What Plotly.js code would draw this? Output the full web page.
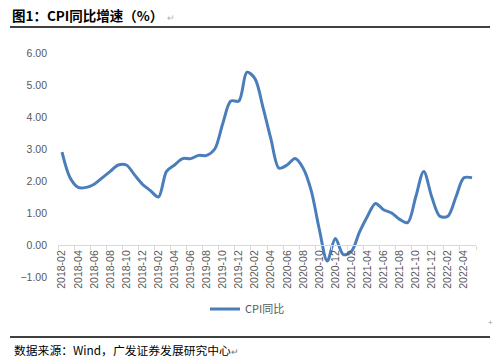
<!DOCTYPE html>
<html>
<head>
<meta charset="utf-8">
<script src="https://cdn.plot.ly/plotly-3.0.1.min.js"></script>
<style>html,body{margin:0;padding:0;background:#fff;}#chart{width:496px;height:358px;}</style>
</head>
<body>
<div id="chart"></div>
<script>
const months = [
  "2018-02","2018-03","2018-04","2018-05","2018-06","2018-07","2018-08","2018-09","2018-10","2018-11","2018-12",
  "2019-01","2019-02","2019-03","2019-04","2019-05","2019-06","2019-07","2019-08","2019-09","2019-10","2019-11","2019-12",
  "2020-01","2020-02","2020-03","2020-04","2020-05","2020-06","2020-07","2020-08","2020-09","2020-10","2020-11","2020-12",
  "2021-01","2021-02","2021-03","2021-04","2021-05","2021-06","2021-07","2021-08","2021-09","2021-10","2021-11","2021-12",
  "2022-01","2022-02","2022-03","2022-04","2022-05"
];
const cpiYoY = [
  2.9,2.1,1.8,1.8,1.9,2.1,2.3,2.5,2.5,2.2,1.9,
  1.7,1.5,2.3,2.5,2.7,2.7,2.8,2.8,3.0,3.8,4.5,4.5,
  5.4,5.2,4.3,3.3,2.4,2.5,2.7,2.4,1.7,0.5,-0.5,0.2,
  -0.3,-0.2,0.4,0.9,1.3,1.1,1.0,0.8,0.7,1.5,2.3,1.5,
  0.9,0.9,1.5,2.1,2.1
];
const seriesName = "CPI同比";
const titleText = "图1：CPI同比增速（%）";
const sourceText = "数据来源：Wind，广发证券发展研究中心";
const yTicks = [-1,0,1,2,3,4,5,6];

// plot area in pixels
const L = 58, R = 20, T = 53, B = 81, W = 496, H = 358;
const pw = W - L - R, ph = H - T - B;
const px = x => (x - L) / pw;
const py = y => (H - B - y) / ph;

const CJK = '"Noto Sans CJK SC", "Liberation Sans", Arial, sans-serif';
const LAT = '"Liberation Sans", Arial, "Noto Sans CJK SC", sans-serif';

const trace = {
  x: months,
  y: cpiYoY,
  type: 'scatter',
  mode: 'lines',
  name: seriesName,
  line: {color: '#4a7ebb', width: 3, shape: 'spline', smoothing: 0.9}
};

const yMin = -1, yMax = 6;

const layout = {
  width: W, height: H,
  margin: {l: L, r: R, t: T, b: B, pad: 0},
  paper_bgcolor: '#fff', plot_bgcolor: '#fff',
  showlegend: true,
  title: {
    text: titleText + '<span style="color:#b0b0b0;font-weight:normal;font-size:9px">  ↵</span>',
    font: {family: CJK, size: 13.5, color: '#000', weight: 'bold'},
    xref: 'container', yref: 'container',
    x: 12 / W, xanchor: 'left',
    y: 1 - 16 / H, yanchor: 'middle'
  },
  xaxis: {
    type: 'category',
    range: [-0.5, months.length - 0.5],
    anchor: 'free',
    position: (0 - yMin) / (yMax - yMin),
    tickmode: 'linear', tick0: 0, dtick: 2,
    tickson: 'boundaries',
    ticks: 'outside', ticklen: 4, tickcolor: '#d9d9d9', tickwidth: 1,
    showline: true, linecolor: '#d9d9d9', linewidth: 1,
    showgrid: false, zeroline: false,
    tickangle: -90,
    tickfont: {family: LAT, size: 10.5, color: '#595959'},
    fixedrange: true
  },
  yaxis: {
    range: [yMin, yMax],
    tickmode: 'array', tickvals: yTicks,
    tickformat: '.2f',
    showgrid: false, zeroline: false, showline: false, ticks: '',
    ticklabelstandoff: 10,
    tickfont: {family: LAT, size: 10.5, color: '#595959'},
    fixedrange: true
  },
  legend: {
    orientation: 'h',
    x: px(205), xanchor: 'left',
    y: py(309), yanchor: 'middle',
    font: {family: CJK, size: 11, color: '#595959'},
    itemwidth: 30,
    bgcolor: 'rgba(0,0,0,0)'
  },
  shapes: [
    {type: 'line', xref: 'paper', yref: 'paper', x0: px(10), x1: px(490), y0: py(27), y1: py(27),
     line: {color: '#000', width: 1.5}},
    {type: 'line', xref: 'paper', yref: 'paper', x0: px(10), x1: px(490), y0: py(337), y1: py(337),
     line: {color: '#000', width: 1.5}}
  ],
  annotations: [
    {xref: 'paper', yref: 'paper', x: px(12), y: py(349), xanchor: 'left', yanchor: 'middle',
     text: sourceText + '<span style="color:#777;font-size:9px">↵</span>', showarrow: false,
     font: {family: CJK, size: 11.8, color: '#000'}},
    {xref: 'paper', yref: 'paper', x: px(490), y: py(322), xanchor: 'center', yanchor: 'middle',
     text: '+', showarrow: false, font: {family: LAT, size: 8, color: '#999'}}
  ]
};

Plotly.newPlot('chart', [trace], layout, {staticPlot: true, displayModeBar: false});
</script>
</body>
</html>
